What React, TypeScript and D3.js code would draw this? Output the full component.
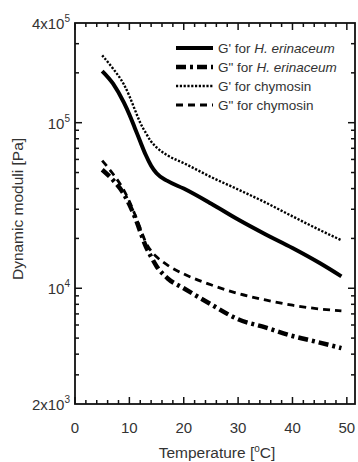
import React, { useEffect, useRef } from 'react'
import * as d3 from 'd3'

// temperature [°C]
const temps = [5, 7, 9, 10, 11, 12, 13, 14, 15, 17, 20, 25, 30, 35, 40, 45, 49]
// G' H. erinaceum
const gpHE = [2.05e5, 1.72e5, 1.32e5, 1.12e5, 9.3e4, 7.7e4, 6.4e4, 5.5e4, 4.95e4, 4.45e4, 4.0e4, 3.25e4, 2.6e4, 2.12e4, 1.75e4, 1.42e4, 1.18e4]
// G'' H. erinaceum
const gppHE = [5.2e4, 4.5e4, 3.7e4, 3.2e4, 2.7e4, 2.2e4, 1.8e4, 1.55e4, 1.36e4, 1.15e4, 1.0e4, 8.0e3, 6.5e3, 5.8e3, 5.15e3, 4.7e3, 4.35e3]
// G' chymosin
const gpCh = [2.55e5, 2.12e5, 1.7e5, 1.45e5, 1.2e5, 1.0e5, 8.7e4, 7.7e4, 7.1e4, 6.35e4, 5.7e4, 4.7e4, 3.95e4, 3.3e4, 2.72e4, 2.25e4, 1.95e4]
// G'' chymosin
const gppCh = [5.9e4, 4.9e4, 3.9e4, 3.35e4, 2.8e4, 2.3e4, 1.9e4, 1.68e4, 1.55e4, 1.38e4, 1.22e4, 1.05e4, 9.3e3, 8.5e3, 7.9e3, 7.5e3, 7.3e3]

const xMajor = [0, 10, 20, 30, 40, 50]
const xMinor = [2, 4, 6, 8, 12, 14, 16, 18, 22, 24, 26, 28, 32, 34, 36, 38, 42, 44, 46, 48]
const yMajor = [1e4, 1e5]
const yMinor = [3e3, 4e3, 5e3, 6e3, 7e3, 8e3, 9e3, 2e4, 3e4, 4e4, 5e4, 6e4, 7e4, 8e4, 9e4, 2e5, 3e5]
const yLabels = [
  { v: 4e5, pre: '4x10', exp: '5' },
  { v: 1e5, pre: '10', exp: '5' },
  { v: 1e4, pre: '10', exp: '4' },
  { v: 2e3, pre: '2x10', exp: '3' },
]

const series = [
  { name: "G' for ", it: 'H. erinaceum', values: gpHE, width: 4, dash: null },
  { name: 'G" for ', it: 'H. erinaceum', values: gppHE, width: 4.5, dash: '10,4,3,4' },
  { name: "G' for chymosin", it: '', values: gpCh, width: 2.4, dash: '2.2,1.6' },
  { name: 'G" for chymosin', it: '', values: gppCh, width: 2.8, dash: '7,5' },
]

const FONT = 'Liberation Sans, Arial, sans-serif'
const TXT = '#333'

export default function App() {
  const svgRef = useRef<SVGSVGElement>(null)

  useEffect(() => {
    const el = svgRef.current
    if (!el) return
    const W = 358
    const H = 462
    const pad = { l: 75, r: 3, t: 23, b: 58 }

    d3.select(el).selectAll('*').remove()
    const svg = d3.select(el).attr('width', W).attr('height', H)

    const x = d3.scaleLinear().domain([0, 51.5]).range([pad.l, W - pad.r])
    const y = d3.scaleLog().domain([2e3, 4e5]).range([H - pad.b, pad.t])
    const x0 = pad.l, x1 = W - pad.r, y0 = H - pad.b, y1 = pad.t

    const line = d3.line<number>()
      .x((_, i) => x(temps[i]))
      .y(d => y(d))
      .curve(d3.curveMonotoneX)

    series.forEach(s => {
      svg.append('path')
        .attr('d', line(s.values))
        .attr('fill', 'none')
        .attr('stroke', '#000')
        .attr('stroke-width', s.width)
        .attr('stroke-dasharray', s.dash)
    })

    // frame
    svg.append('rect').attr('x', x0).attr('y', y1).attr('width', x1 - x0).attr('height', y0 - y1)
      .attr('fill', 'none').attr('stroke', '#111').attr('stroke-width', 1.8)

    const tick = (x1_: number, y1_: number, x2_: number, y2_: number) =>
      svg.append('line').attr('x1', x1_).attr('y1', y1_).attr('x2', x2_).attr('y2', y2_)
        .attr('stroke', '#111').attr('stroke-width', 1.5)

    xMajor.forEach(t => { tick(x(t), y0, x(t), y0 - 7); tick(x(t), y1, x(t), y1 + 7) })
    xMinor.forEach(t => { tick(x(t), y0, x(t), y0 - 4); tick(x(t), y1, x(t), y1 + 4) })
    yMajor.forEach(t => { tick(x0, y(t), x0 + 7, y(t)); tick(x1, y(t), x1 - 7, y(t)) })
    yMinor.forEach(t => { tick(x0, y(t), x0 + 4, y(t)); tick(x1, y(t), x1 - 4, y(t)) })

    xMajor.forEach(t => {
      svg.append('text').attr('x', x(t)).attr('y', y0 + 29)
        .attr('text-anchor', 'middle').attr('font-size', 15).attr('fill', TXT).attr('font-family', FONT)
        .text(t)
    })

    yLabels.forEach(l => {
      const t = svg.append('text').attr('x', x0 - 5).attr('y', y(l.v) + 6)
        .attr('text-anchor', 'end').attr('font-size', 15).attr('fill', TXT).attr('font-family', FONT)
      t.append('tspan').text(l.pre)
      t.append('tspan').attr('dy', -7).attr('font-size', 10).text(l.exp)
    })

    // axis titles
    const xt = svg.append('text').attr('x', 217).attr('y', 458)
      .attr('text-anchor', 'middle').attr('font-size', 15.5).attr('fill', TXT).attr('font-family', FONT)
    xt.append('tspan').text('Temperature [')
    xt.append('tspan').attr('dy', -6).attr('font-size', 10).text('o')
    xt.append('tspan').attr('dy', 6).text('C]')

    svg.append('text').attr('transform', `translate(23,${209}) rotate(-90)`)
      .attr('text-anchor', 'middle').attr('font-size', 15.5).attr('fill', TXT).attr('font-family', FONT)
      .text('Dynamic moduli [Pa]')

    // legend
    series.forEach((s, i) => {
      const ly = 48 + i * 19
      svg.append('line').attr('x1', 176).attr('x2', 213).attr('y1', ly).attr('y2', ly)
        .attr('stroke', '#000').attr('stroke-width', s.width).attr('stroke-dasharray', s.dash)
      const t = svg.append('text').attr('x', 218).attr('y', ly + 4.8)
        .attr('font-size', 13.5).attr('fill', TXT).attr('font-family', FONT)
      t.append('tspan').text(s.name)
      if (s.it) t.append('tspan').attr('font-style', 'italic').text(s.it)
    })
  }, [])

  return (
    <div style={{ position: 'absolute', left: 0, top: 0 }}>
      <svg ref={svgRef} style={{ display: 'block' }} />
    </div>
  )
}
